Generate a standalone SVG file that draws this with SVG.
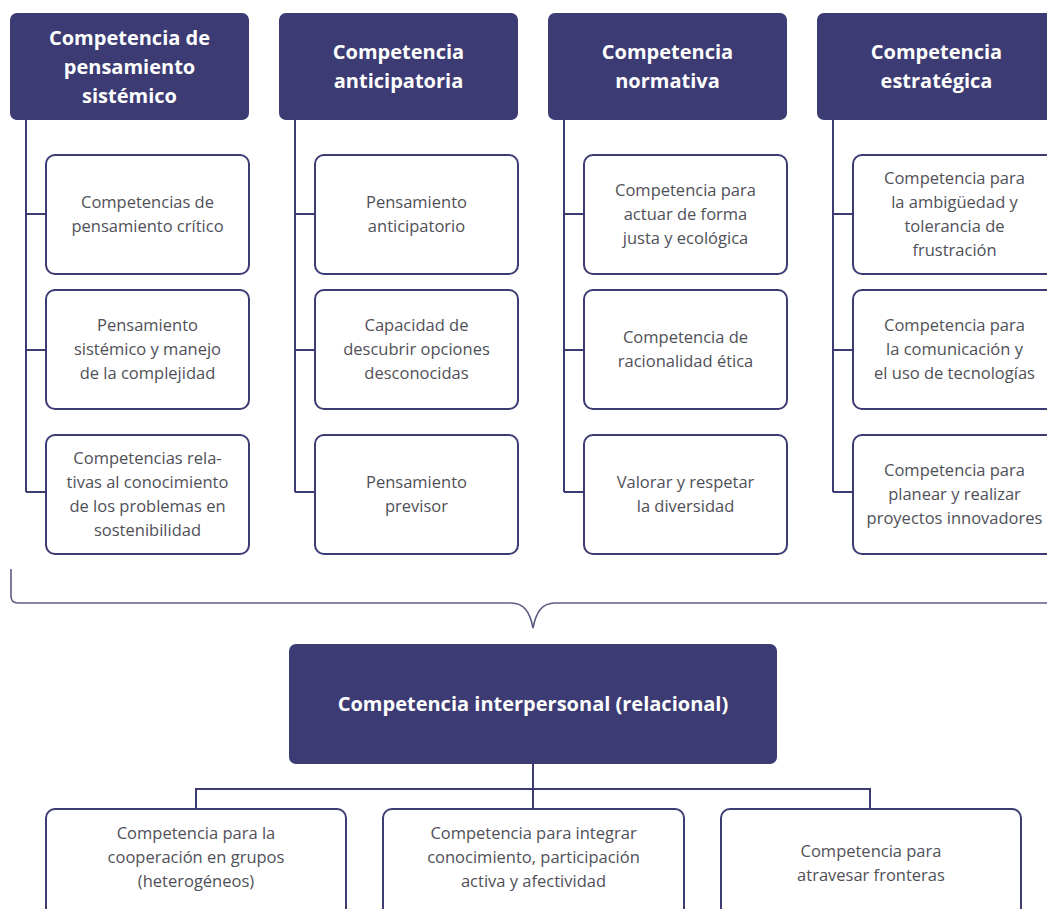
<svg xmlns="http://www.w3.org/2000/svg" width="1047" height="909" viewBox="0 0 1047 909">
  <style>
    .hdr { fill: #3c3b73; }
    .hdr-t { fill: #ffffff; font-family: "Open Sans", "Noto Sans", "Liberation Sans", sans-serif; font-weight: 700; font-size: 20px; text-anchor: middle; }
    .box { fill: #ffffff; stroke: #3c3b73; stroke-width: 2; }
    .box-t { fill: #505058; font-family: "Open Sans", "Noto Sans", "Liberation Sans", sans-serif; font-size: 16.5px; text-anchor: middle; }
    .conn { fill: none; stroke: #3c3b73; stroke-width: 2; }
    .brace { fill: none; stroke: #5d5c82; stroke-width: 1.6; }
  </style>
  <rect width="1047" height="909" fill="#ffffff"/>

  <!-- connectors -->
  <g id="connectors">
    <!-- column trunks and branches -->
    <path class="conn" d="M26 120 V492 M26 214 H46 M26 350 H46 M26 492 H46"/>
    <path class="conn" d="M295 120 V492 M295 214 H315 M295 350 H315 M295 492 H315"/>
    <path class="conn" d="M564 120 V492 M564 214 H584 M564 350 H584 M564 492 H584"/>
    <path class="conn" d="M833 120 V492 M833 214 H853 M833 350 H853 M833 492 H853"/>
    <!-- brace gathering the four columns -->
    <path class="brace" d="M11 569 V596 Q11 603 18 603 H511 C524 603 530 612 533 628 C536 612 542 603 555 603 H1047"/>
    <!-- interpersonal branches -->
    <path class="conn" d="M533 764 V809 M196 809 V789 H870 V809"/>
  </g>

  <!-- column 1 -->
  <g id="col1-header">
    <rect class="hdr" x="10" y="13" width="239" height="107" rx="7"/>
    <text class="hdr-t" x="129.5" y="45">Competencia de</text>
    <text class="hdr-t" x="129.5" y="74">pensamiento</text>
    <text class="hdr-t" x="129.5" y="103">sistémico</text>
  </g>
  <g id="col1-item1">
    <rect class="box" x="46" y="155" width="203" height="119" rx="9"/>
    <text class="box-t" x="147.5" y="207.5">Competencias de</text>
    <text class="box-t" x="147.5" y="231.5">pensamiento crítico</text>
  </g>
  <g id="col1-item2">
    <rect class="box" x="46" y="290" width="203" height="119" rx="9"/>
    <text class="box-t" x="147.5" y="331">Pensamiento</text>
    <text class="box-t" x="147.5" y="355">sistémico y manejo</text>
    <text class="box-t" x="147.5" y="379">de la complejidad</text>
  </g>
  <g id="col1-item3">
    <rect class="box" x="46" y="435" width="203" height="119" rx="9"/>
    <text class="box-t" x="147.5" y="464">Competencias rela-</text>
    <text class="box-t" x="147.5" y="488">tivas al conocimiento</text>
    <text class="box-t" x="147.5" y="512">de los problemas en</text>
    <text class="box-t" x="147.5" y="536">sostenibilidad</text>
  </g>

  <!-- column 2 -->
  <g id="col2-header">
    <rect class="hdr" x="279" y="13" width="239" height="107" rx="7"/>
    <text class="hdr-t" x="398.5" y="59">Competencia</text>
    <text class="hdr-t" x="398.5" y="88">anticipatoria</text>
  </g>
  <g id="col2-item1">
    <rect class="box" x="315" y="155" width="203" height="119" rx="9"/>
    <text class="box-t" x="416.5" y="207.5">Pensamiento</text>
    <text class="box-t" x="416.5" y="231.5">anticipatorio</text>
  </g>
  <g id="col2-item2">
    <rect class="box" x="315" y="290" width="203" height="119" rx="9"/>
    <text class="box-t" x="416.5" y="331">Capacidad de</text>
    <text class="box-t" x="416.5" y="355">descubrir opciones</text>
    <text class="box-t" x="416.5" y="379">desconocidas</text>
  </g>
  <g id="col2-item3">
    <rect class="box" x="315" y="435" width="203" height="119" rx="9"/>
    <text class="box-t" x="416.5" y="488">Pensamiento</text>
    <text class="box-t" x="416.5" y="512">previsor</text>
  </g>

  <!-- column 3 -->
  <g id="col3-header">
    <rect class="hdr" x="548" y="13" width="239" height="107" rx="7"/>
    <text class="hdr-t" x="667.5" y="59">Competencia</text>
    <text class="hdr-t" x="667.5" y="88">normativa</text>
  </g>
  <g id="col3-item1">
    <rect class="box" x="584" y="155" width="203" height="119" rx="9"/>
    <text class="box-t" x="685.5" y="195.5">Competencia para</text>
    <text class="box-t" x="685.5" y="219.5">actuar de forma</text>
    <text class="box-t" x="685.5" y="243.5">justa y ecológica</text>
  </g>
  <g id="col3-item2">
    <rect class="box" x="584" y="290" width="203" height="119" rx="9"/>
    <text class="box-t" x="685.5" y="343">Competencia de</text>
    <text class="box-t" x="685.5" y="367">racionalidad ética</text>
  </g>
  <g id="col3-item3">
    <rect class="box" x="584" y="435" width="203" height="119" rx="9"/>
    <text class="box-t" x="685.5" y="488">Valorar y respetar</text>
    <text class="box-t" x="685.5" y="512">la diversidad</text>
  </g>

  <!-- column 4 -->
  <g id="col4-header">
    <rect class="hdr" x="817" y="13" width="239" height="107" rx="7"/>
    <text class="hdr-t" x="936.5" y="59">Competencia</text>
    <text class="hdr-t" x="936.5" y="88">estratégica</text>
  </g>
  <g id="col4-item1">
    <rect class="box" x="853" y="155" width="203" height="119" rx="9"/>
    <text class="box-t" x="954.5" y="183.5">Competencia para</text>
    <text class="box-t" x="954.5" y="207.5">la ambigüedad y</text>
    <text class="box-t" x="954.5" y="231.5">tolerancia de</text>
    <text class="box-t" x="954.5" y="255.5">frustración</text>
  </g>
  <g id="col4-item2">
    <rect class="box" x="853" y="290" width="203" height="119" rx="9"/>
    <text class="box-t" x="954.5" y="331">Competencia para</text>
    <text class="box-t" x="954.5" y="355">la comunicación y</text>
    <text class="box-t" x="954.5" y="379">el uso de tecnologías</text>
  </g>
  <g id="col4-item3">
    <rect class="box" x="853" y="435" width="203" height="119" rx="9"/>
    <text class="box-t" x="954.5" y="476">Competencia para</text>
    <text class="box-t" x="954.5" y="500">planear y realizar</text>
    <text class="box-t" x="954.5" y="524">proyectos innovadores</text>
  </g>

  <!-- interpersonal competence -->
  <g id="interpersonal">
    <rect class="hdr" x="289" y="644" width="488" height="120" rx="7"/>
    <text class="hdr-t" x="533" y="711">Competencia interpersonal (relacional)</text>
  </g>
  <g id="inter-item1">
    <rect class="box" x="46" y="809" width="300" height="120" rx="9"/>
    <text class="box-t" x="196" y="839">Competencia para la</text>
    <text class="box-t" x="196" y="863">cooperación en grupos</text>
    <text class="box-t" x="196" y="887">(heterogéneos)</text>
  </g>
  <g id="inter-item2">
    <rect class="box" x="383" y="809" width="301" height="120" rx="9"/>
    <text class="box-t" x="533.5" y="839">Competencia para integrar</text>
    <text class="box-t" x="533.5" y="863">conocimiento, participación</text>
    <text class="box-t" x="533.5" y="887">activa y afectividad</text>
  </g>
  <g id="inter-item3">
    <rect class="box" x="721" y="809" width="300" height="120" rx="9"/>
    <text class="box-t" x="871" y="857">Competencia para</text>
    <text class="box-t" x="871" y="881">atravesar fronteras</text>
  </g>
</svg>
